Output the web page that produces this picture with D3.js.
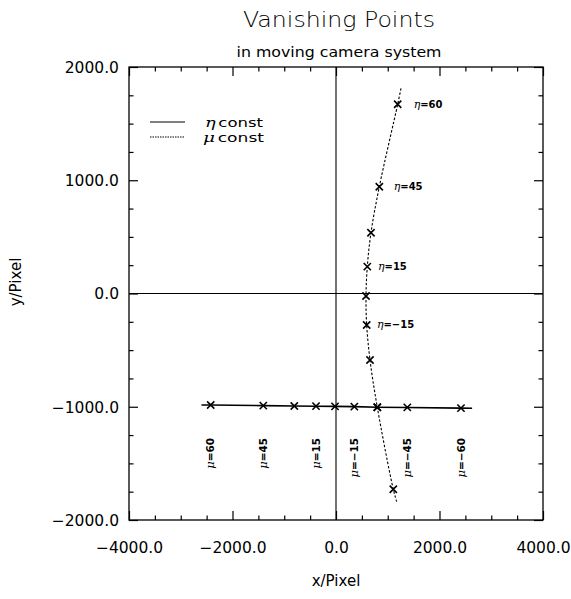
<!DOCTYPE html>
<html><head><meta charset="utf-8">
<script src="https://cdn.jsdelivr.net/npm/d3@7"></script>
<style>
body{margin:0;background:#fff;}
text{font-family:"DejaVu Sans","Liberation Sans",sans-serif;fill:#000;}
</style></head>
<body><svg id="chart" width="571" height="599"></svg>
<script>
// ---- data ----
const xDomain = [-4000, 4000];
const yDomain = [-2000, 2000];
const xTickValues = [-4000, -2000, 0, 2000, 4000];
const yTickValues = [-2000, -1000, 0, 1000, 2000];
const tickLabelFmt = d => (d < 0 ? "\u2212" : "") + Math.abs(d).toFixed(1);

// eta = const line (horizontal): markers at mu values
const muValues = [60, 45, 30, 15, 0, -15, -30, -45, -60];
const etaConstX = [-2421, -1405, -806, -386, -19, 354, 798, 1378, 2415];
const etaConstY = [-985, -990, -993, -995, -997, -999, -1004, -1006, -1012];
const etaConstEnds = [[-2600, -984], [2630, -1013]];

// mu = const curve: markers at eta values
const etaValues = [60, 45, 30, 15, 0, -15, -30, -45, -60];
const muConstX = [1192, 837, 676, 605, 580, 593, 657, 798, 1107];
const muConstY = [1671, 943, 537, 237, -22, -278, -587, -1004, -1729];
const muConstEnds = [[1256, 1812], [1173, -1838]];

// annotation labels (data coordinates)
const etaLabels = [
  {text: "60", x: 1500, y: 1671},
  {text: "45", x: 1115, y: 943},
  {text: "15", x: 810, y: 237},
  {text: "\u221215", x: 790, y: -278}
];
const muLabels = [
  {text: "60", x: -2421},
  {text: "45", x: -1405},
  {text: "15", x: -386},
  {text: "\u221215", x: 354},
  {text: "\u221245", x: 1378},
  {text: "\u221260", x: 2415}
];
const muLabelY = -1275;

// ---- drawing ----
const svg = d3.select("#chart");
const L = 129, R = 543, T = 67, B = 520;
const x = d3.scaleLinear().domain(xDomain).range([L, R]);
const y = d3.scaleLinear().domain(yDomain).range([B, T]);

// title
svg.append("text").attr("x", 339).attr("y", 27).attr("text-anchor", "middle")
  .attr("font-size", 22).attr("font-weight", 300).attr("textLength", 192).attr("lengthAdjust", "spacingAndGlyphs")
  .text("Vanishing Points");
svg.append("text").attr("x", 339).attr("y", 57).attr("text-anchor", "middle")
  .attr("font-size", 14).attr("textLength", 205).attr("lengthAdjust", "spacingAndGlyphs")
  .text("in moving camera system");

// axes with ticks all around
const xMinor = d3.range(-4000, 4001, 500);
const yMinor = d3.range(-2000, 2001, 250);
function axisStyle(g){ g.select(".domain").remove(); g.selectAll("line").attr("stroke","#000").attr("stroke-width",1.2); }
const maj = 9, mnr = 4.5;
const xb = svg.append("g").attr("transform", `translate(0,${B})`)
  .call(d3.axisTop(x).tickValues(xMinor).tickSize(0).tickFormat(""));
xb.selectAll(".tick line").attr("y2", d => -(xTickValues.includes(d) ? maj : mnr));
axisStyle(xb);
const xt = svg.append("g").attr("transform", `translate(0,${T})`)
  .call(d3.axisBottom(x).tickValues(xMinor).tickSize(0).tickFormat(""));
xt.selectAll(".tick line").attr("y2", d => (xTickValues.includes(d) ? maj : mnr));
axisStyle(xt);
const yl = svg.append("g").attr("transform", `translate(${L},0)`)
  .call(d3.axisRight(y).tickValues(yMinor).tickSize(0).tickFormat(""));
yl.selectAll(".tick line").attr("x2", d => (yTickValues.includes(d) ? maj : mnr));
axisStyle(yl);
const yr = svg.append("g").attr("transform", `translate(${R},0)`)
  .call(d3.axisLeft(y).tickValues(yMinor).tickSize(0).tickFormat(""));
yr.selectAll(".tick line").attr("x2", d => -(yTickValues.includes(d) ? maj : mnr));
axisStyle(yr);

// tick labels
const xl = svg.append("g").attr("transform", `translate(0,${B + 28})`)
  .call(d3.axisBottom(x).tickValues(xTickValues).tickSize(0).tickFormat(tickLabelFmt));
xl.select(".domain").remove();
xl.selectAll("text").attr("font-size", 15.5).attr("font-family", "DejaVu Sans").attr("y", 0).attr("dy", "0.35em");
const ylab = svg.append("g").attr("transform", `translate(${L - 10},0)`)
  .call(d3.axisLeft(y).tickValues(yTickValues).tickSize(0).tickFormat(tickLabelFmt));
ylab.select(".domain").remove();
ylab.selectAll("text").attr("font-size", 15.5).attr("font-family", "DejaVu Sans").attr("x", 0).attr("dy", "0.35em");

// frame
svg.append("rect").attr("x", L).attr("y", T).attr("width", R - L).attr("height", B - T)
  .attr("fill", "none").attr("stroke", "#000").attr("stroke-width", 1.3);

// zero lines
svg.append("line").attr("x1", L).attr("x2", R).attr("y1", y(0)).attr("y2", y(0)).attr("stroke", "#000").attr("stroke-width", 1.1);
svg.append("line").attr("x1", x(0)).attr("x2", x(0)).attr("y1", T).attr("y2", B).attr("stroke", "#000").attr("stroke-width", 1.1);

// axis titles
svg.append("text").attr("x", 336).attr("y", 586).attr("text-anchor", "middle").attr("font-size", 15).text("x/Pixel");
svg.append("text").attr("transform", "translate(21,282) rotate(-90)").attr("text-anchor", "middle").attr("font-size", 15).text("y/Pixel");

// eta const line
const etaPts = etaConstX.map((v, i) => [v, etaConstY[i]]);
const etaLinePts = [etaConstEnds[0], ...etaPts, etaConstEnds[1]];
const line = d3.line().x(d => x(d[0])).y(d => y(d[1]));
svg.append("path").attr("d", line(etaLinePts)).attr("fill", "none").attr("stroke", "#000").attr("stroke-width", 1.6);

// mu const curve
const muPts = muConstX.map((v, i) => [v, muConstY[i]]);
const muCurvePts = [muConstEnds[0], ...muPts, muConstEnds[1]];
const curve = d3.line().x(d => x(d[0])).y(d => y(d[1])).curve(d3.curveCatmullRom.alpha(0.5));
svg.append("path").attr("d", curve(muCurvePts)).attr("fill", "none").attr("stroke", "#000")
  .attr("stroke-width", 1.1).attr("stroke-dasharray", "2.5,1.8");

// markers
const sym = d3.symbol().type(d3.symbolTimes).size(36);
svg.append("g").selectAll("path").data([...etaPts, ...muPts]).join("path")
  .attr("transform", d => `translate(${x(d[0])},${y(d[1])})`)
  .attr("d", sym).attr("fill", "none").attr("stroke", "#000").attr("stroke-width", 1.6);

// eta labels
const etaG = svg.append("g");
etaLabels.forEach(l => {
  const t = etaG.append("text").attr("x", x(l.x)).attr("y", y(l.y)).attr("dy", "0.35em")
    .attr("font-size", 10).attr("font-weight", "bold").attr("font-family", "Liberation Sans");
  t.append("tspan").attr("font-style", "italic").attr("font-weight", "normal").attr("font-family", "DejaVu Serif").attr("font-size", 11).text("\u03b7");
  t.append("tspan").text("=" + l.text);
});
// mu labels (rotated)
const muG = svg.append("g");
muLabels.forEach(l => {
  const t = muG.append("text").attr("transform", `translate(${x(l.x)},${y(muLabelY)}) rotate(-90)`)
    .attr("text-anchor", "end").attr("dy", "0.35em")
    .attr("font-size", 10.5).attr("font-weight", "bold").attr("font-family", "Liberation Sans");
  t.append("tspan").attr("font-style", "italic").attr("font-family", "DejaVu Serif").attr("font-weight", "normal").attr("font-size", 11.5).text("\u03bc");
  t.append("tspan").text("=" + l.text);
});

// legend
svg.append("line").attr("x1", 150).attr("x2", 185).attr("y1", 122).attr("y2", 122).attr("stroke", "#000").attr("stroke-width", 1.1);
svg.append("line").attr("x1", 150).attr("x2", 185).attr("y1", 137).attr("y2", 137).attr("stroke", "#000").attr("stroke-width", 1).attr("stroke-dasharray", "1.5,1");
const lg1 = svg.append("text").attr("x", 205).attr("y", 126.5).attr("font-size", 12.5)
  .attr("textLength", 58).attr("lengthAdjust", "spacingAndGlyphs");
lg1.append("tspan").attr("font-family", "DejaVu Serif").attr("font-style", "italic").attr("font-size", 13.5).text("\u03b7");
lg1.append("tspan").attr("dx", 2).text("const");
const lg2 = svg.append("text").attr("x", 203).attr("y", 141.5).attr("font-size", 12.5)
  .attr("textLength", 61).attr("lengthAdjust", "spacingAndGlyphs");
lg2.append("tspan").attr("font-family", "DejaVu Serif").attr("font-style", "italic").attr("font-size", 13.5).text("\u03bc");
lg2.append("tspan").attr("dx", 2).text("const");
</script></body></html>
